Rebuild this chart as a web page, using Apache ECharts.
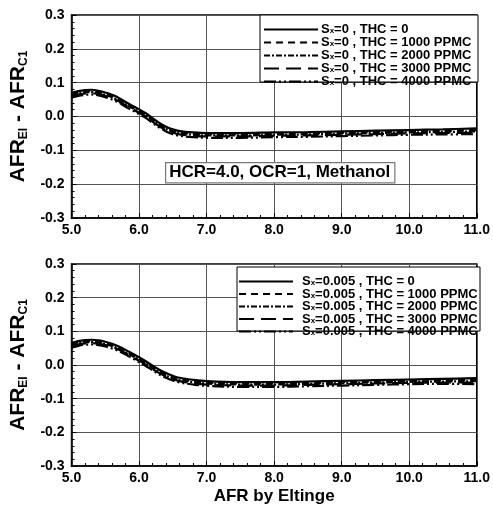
<!DOCTYPE html>
<html>
<head>
<meta charset="utf-8">
<script src="https://cdn.jsdelivr.net/npm/echarts@6/dist/echarts.min.js"></script>
<style>
html,body{margin:0;padding:0;background:#fff;}
#c{width:493px;height:508px;}
</style>
</head>
<body>
<div id="c"></div>
<script>
// ---------- data ----------
const afrValues = [5.0,5.1,5.2,5.3,5.4,5.5,5.6,5.7,5.8,5.9,6.0,6.1,6.2,6.3,6.4,6.5,6.6,6.8,7.0,7.5,8.0,8.5,9.0,9.5,10.0,10.5,11.0];

// Top panel: Sx = 0
const topThc0    = [0.070,0.075,0.078,0.079,0.076,0.071,0.064,0.055,0.043,0.032,0.021,0.010,-0.005,-0.019,-0.030,-0.038,-0.043,-0.047,-0.049,-0.049,-0.047,-0.046,-0.044,-0.042,-0.040,-0.038,-0.035];
const topThc1000 = [0.066,0.071,0.074,0.075,0.072,0.067,0.060,0.051,0.039,0.028,0.017,0.006,-0.009,-0.023,-0.034,-0.042,-0.047,-0.051,-0.053,-0.053,-0.051,-0.050,-0.048,-0.046,-0.044,-0.043,-0.040];
const topThc2000 = [0.063,0.068,0.071,0.072,0.069,0.064,0.057,0.048,0.036,0.025,0.014,0.003,-0.012,-0.026,-0.037,-0.045,-0.050,-0.054,-0.056,-0.056,-0.054,-0.053,-0.051,-0.049,-0.047,-0.046,-0.044];
const topThc3000 = [0.060,0.065,0.068,0.069,0.066,0.061,0.054,0.045,0.033,0.022,0.011,0.000,-0.015,-0.029,-0.040,-0.048,-0.053,-0.057,-0.059,-0.059,-0.057,-0.056,-0.054,-0.052,-0.050,-0.049,-0.048];
const topThc4000 = [0.056,0.061,0.064,0.065,0.062,0.057,0.050,0.041,0.029,0.018,0.007,-0.004,-0.019,-0.033,-0.044,-0.052,-0.057,-0.061,-0.063,-0.063,-0.061,-0.060,-0.058,-0.056,-0.054,-0.053,-0.052];

// Bottom panel: Sx = 0.005
const botThc0    = [0.065,0.071,0.074,0.075,0.073,0.069,0.063,0.055,0.045,0.034,0.023,0.011,-0.002,-0.014,-0.024,-0.032,-0.038,-0.044,-0.048,-0.051,-0.051,-0.049,-0.047,-0.045,-0.043,-0.041,-0.039];
const botThc1000 = [0.061,0.067,0.070,0.071,0.069,0.065,0.059,0.051,0.041,0.030,0.019,0.007,-0.006,-0.018,-0.028,-0.036,-0.042,-0.048,-0.052,-0.055,-0.055,-0.053,-0.051,-0.049,-0.047,-0.046,-0.044];
const botThc2000 = [0.058,0.064,0.067,0.068,0.066,0.062,0.056,0.048,0.038,0.027,0.016,0.004,-0.009,-0.021,-0.031,-0.039,-0.045,-0.051,-0.055,-0.058,-0.058,-0.056,-0.054,-0.052,-0.050,-0.049,-0.048];
const botThc3000 = [0.055,0.061,0.064,0.065,0.063,0.059,0.053,0.045,0.035,0.024,0.013,0.001,-0.012,-0.024,-0.034,-0.042,-0.048,-0.054,-0.058,-0.061,-0.061,-0.059,-0.057,-0.055,-0.053,-0.052,-0.052];
const botThc4000 = [0.051,0.057,0.060,0.061,0.059,0.055,0.049,0.041,0.031,0.020,0.009,-0.003,-0.016,-0.028,-0.038,-0.046,-0.052,-0.058,-0.062,-0.065,-0.065,-0.063,-0.061,-0.059,-0.057,-0.056,-0.057];

const topNames = ['S_x=0 , THC = 0','S_x=0 , THC = 1000 PPMC','S_x=0 , THC = 2000 PPMC','S_x=0 , THC = 3000 PPMC','S_x=0 , THC = 4000 PPMC'];
const botNames = ['S_x=0.005 , THC = 0','S_x=0.005 , THC = 1000 PPMC','S_x=0.005 , THC = 2000 PPMC','S_x=0.005 , THC = 3000 PPMC','S_x=0.005 , THC = 4000 PPMC'];
const xTickMin = 5, xTickMax = 11, xTickStep = 1;
const yTickMin = -0.3, yTickMax = 0.3, yTickStep = 0.1;
const annotationText = 'HCR=4.0, OCR=1, Methanol';
const xTitle = 'AFR by Eltinge';

// ---------- styling ----------
const FONT = '"Liberation Sans", Arial, Helvetica, sans-serif';
const dashes = ['solid', [7,5], [6,2,2,2], [15,7], [12,3,2,3,2,3]];

function pairs(arr){ return afrValues.map((x,i)=>[x, arr[i]]); }

function mkSeries(names, arrays, gi){
  return arrays.map((a,i)=>({
    type:'line', name:names[i], xAxisIndex:gi, yAxisIndex:gi,
    data:pairs(a), smooth:0.35, showSymbol:false, symbol:'none', symbolSize:0,
    lineStyle:{color:'#000', width:2.2, type:dashes[i]},
    itemStyle:{color:'#000'}, z:3, animation:false
  }));
}

function legendFmt(name){
  const rest = name.replace('S_x','');
  return '{m|S}{s|x}{m|' + rest + '}';
}
const legendRich = {
  m:{fontFamily:FONT, fontWeight:'bold', fontSize:13, color:'#000', lineHeight:11},
  s:{fontFamily:FONT, fontWeight:'bold', fontSize:8, color:'#000', lineHeight:3, verticalAlign:'bottom'}
};

const yName = '{m|AFR}{s|EI}{m| - AFR}{s|C1}';
const yRich = {
  m:{fontFamily:FONT, fontWeight:'bold', fontSize:21, color:'#000', lineHeight:22},
  s:{fontFamily:FONT, fontWeight:'bold', fontSize:12, color:'#000', lineHeight:6, verticalAlign:'bottom'}
};

function xAxisCfg(gi, withName){
  const o = {
    type:'value', gridIndex:gi, min:xTickMin, max:xTickMax, interval:xTickStep,
    axisLine:{show:true, onZero:false, lineStyle:{color:'#000', width:1.5}},
    axisTick:{show:true, inside:true, length:5, lineStyle:{color:'#000'}},
    minorTick:{show:true, splitNumber:5, length:3, lineStyle:{color:'#000'}},
    splitLine:{show:true, lineStyle:{color:'#555', width:1}},
    axisLabel:{margin:5, color:'#000', fontFamily:FONT, fontWeight:'bold', fontSize:14,
      formatter:v=>v.toFixed(1)}
  };
  if(withName){
    o.name = xTitle; o.nameLocation='middle'; o.nameGap=22;
    o.nameTextStyle={fontFamily:FONT, fontWeight:'bold', fontSize:17, color:'#000'};
  }
  return o;
}
function yAxisCfg(gi){
  return {
    type:'value', gridIndex:gi, min:yTickMin, max:yTickMax, interval:yTickStep,
    name:yName, nameLocation:'middle', nameRotate:90, nameGap:34,
    nameTextStyle:{rich:yRich},
    axisLine:{show:true, onZero:false, lineStyle:{color:'#000', width:1.5}},
    axisTick:{show:true, inside:true, length:5, lineStyle:{color:'#000'}},
    minorTick:{show:true, splitNumber:5, length:3, lineStyle:{color:'#000'}},
    splitLine:{show:true, lineStyle:{color:'#555', width:1}},
    axisLabel:{margin:7, color:'#000', fontFamily:FONT, fontWeight:'bold', fontSize:14,
      formatter:v=>{ if(Math.abs(v)<1e-9) v=0; return v.toFixed(1); }}
  };
}

const legendCommon = {
  orient:'vertical', padding:0, itemWidth:54, itemHeight:11, selectedMode:false,
  formatter:legendFmt, itemStyle:{opacity:0, borderWidth:0}, z:10
};

const chart = echarts.init(document.getElementById('c'), null, {renderer:'canvas'});
chart.setOption({
  animation:false,
  backgroundColor:'#fff',
  grid:[
    {left:67, top:15, width:411, height:203, show:true, borderColor:'#000', borderWidth:1.5, backgroundColor:'transparent'},
    {left:68, top:264, width:412, height:202, show:true, borderColor:'#000', borderWidth:1.5, backgroundColor:'transparent'}
  ],
  xAxis:[xAxisCfg(0,false), xAxisCfg(1,true)],
  yAxis:[yAxisCfg(0), yAxisCfg(1)],
  legend:[
    Object.assign({}, legendCommon, {data:topNames, left:263, top:23, itemGap:0,
      textStyle:{rich:legendRich, padding:[0,0,0,-2]}}),
    Object.assign({}, legendCommon, {data:botNames, left:238, top:275, itemGap:-0.5,
      textStyle:{rich:legendRich, padding:[0,0,0,4]}})
  ],
  graphic:[
    {type:'rect', z:5, shape:{x:260, y:15, width:218, height:67},
     style:{fill:'#fff', stroke:'#000', lineWidth:1}},
    {type:'rect', z:5, shape:{x:237, y:267, width:243, height:64},
     style:{fill:'#fff', stroke:'#000', lineWidth:1}},
    {type:'text', z:6, left:165, top:162,
     style:{text:annotationText, font:'bold 17px ' + FONT, fill:'#000',
       backgroundColor:'#fff', borderColor:'#777', borderWidth:1.2, padding:[1,4,1,3]}}
  ],
  series:[].concat(
    mkSeries(topNames,[topThc0,topThc1000,topThc2000,topThc3000,topThc4000],0),
    mkSeries(botNames,[botThc0,botThc1000,botThc2000,botThc3000,botThc4000],1)
  )
});
</script>
</body>
</html>
